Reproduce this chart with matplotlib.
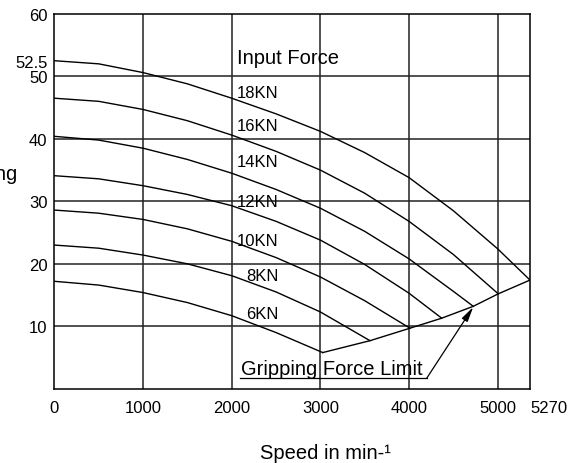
import matplotlib.pyplot as plt

plt.rcParams['font.family'] = ['Liberation Sans', 'DejaVu Sans']

# speed axis runs a bit past the last grid line (right edge is labelled 5270)
x_max = 5365
x_ticks = [0, 1000, 2000, 3000, 4000, 5000]
y_ticks = [10, 20, 30, 40, 50, 52.5, 60]

forces = ['18KN', '16KN', '14KN', '12KN', '10KN', '8KN', '6KN']

speed_18 = [0, 500, 1000, 1500, 2000, 2500, 3000, 3500, 4000, 4500, 5000, 5365]
grip_18 = [52.5, 52.0, 50.6, 48.8, 46.5, 44.0, 41.2, 37.8, 33.8, 28.5, 22.4, 17.4]
speed_16 = [0, 500, 1000, 1500, 2000, 2500, 3000, 3500, 4000, 4500, 5007]
grip_16 = [46.5, 46.0, 44.7, 42.9, 40.6, 38.0, 35.0, 31.3, 26.8, 21.5, 15.2]
speed_14 = [0, 500, 1000, 1500, 2000, 2500, 3000, 3500, 4000, 4500, 4725]
grip_14 = [40.4, 39.8, 38.5, 36.7, 34.5, 31.9, 28.9, 25.2, 20.8, 15.6, 13.2]
speed_12 = [0, 500, 1000, 1500, 2000, 2500, 3000, 3500, 4000, 4369]
grip_12 = [34.1, 33.6, 32.5, 31.1, 29.3, 26.8, 23.8, 19.9, 15.3, 11.3]
speed_10 = [0, 500, 1000, 1500, 2000, 2500, 3000, 3500, 4011]
grip_10 = [28.6, 28.1, 27.1, 25.6, 23.6, 21.0, 17.9, 14.1, 9.7]
speed_8 = [0, 500, 1000, 1500, 2000, 2500, 3000, 3560]
grip_8 = [23.0, 22.5, 21.4, 20.0, 18.1, 15.5, 12.3, 7.7]
speed_6 = [0, 500, 1000, 1500, 2000, 2500, 3027]
grip_6 = [17.2, 16.6, 15.4, 13.8, 11.7, 9.0, 5.8]

limit_speed = [3027, 3560, 4011, 4369, 4725, 5007, 5365]
limit_grip = [5.8, 7.7, 9.7, 11.3, 13.2, 15.2, 17.4]

# label positions (left edge, centre)
label_x = [2056, 2056, 2056, 2056, 2056, 2161, 2161]
label_y = [47.4, 42.2, 36.3, 29.9, 23.7, 18.1, 12.0]

curves = [(speed_18, grip_18), (speed_16, grip_16), (speed_14, grip_14),
          (speed_12, grip_12), (speed_10, grip_10), (speed_8, grip_8),
          (speed_6, grip_6)]

fig = plt.figure(figsize=(5.71, 4.64), dpi=100)
ax = fig.add_axes([0.0953, 0.1599, 0.9282 - 0.0953, 0.968 - 0.1599])

# grid
for gx in x_ticks[1:]:
    ax.axvline(gx, color='#222222', lw=1.1, zorder=1)
for gy in [10, 20, 30, 40, 50]:
    ax.axhline(gy, color='#222222', lw=1.1, zorder=1)

for sx, gy in curves:
    ax.plot(sx, gy, color='black', lw=1.0, zorder=2)
ax.plot(limit_speed, limit_grip, color='black', lw=1.0, zorder=2)

ax.text(2056, 53.0, 'Input Force', fontsize=14.5, va='center', ha='left')
for name, lx, ly in zip(forces, label_x, label_y):
    ax.text(lx, ly, name, fontsize=12, va='center', ha='left')

# gripping force limit callout
ax.text(2102, 2.3, 'Gripping Force Limit', fontsize=14.5, va='baseline', ha='left')
ax.plot([2092, 4200], [1.7, 1.7], color='black', lw=0.9)
ax.annotate('', xy=(4725, 13.1), xytext=(4200, 1.7),
            arrowprops=dict(arrowstyle='-|>,head_length=0.9,head_width=0.2',
                            color='black', lw=0.9, shrinkA=0, shrinkB=0))

ax.set_xlim(0, x_max)
ax.set_ylim(0, 60)
ax.set_xticks(x_ticks + [x_max])
ax.set_xticklabels([str(t) for t in x_ticks] + ['5270'])
ax.get_xticklabels()[-1].set_horizontalalignment('left')
ax.set_yticks(y_ticks)
ax.set_yticklabels(['10', '20', '30', '40', '50', '52.5', '60'])
ax.tick_params(length=0, labelsize=12, pad=5)
ax.tick_params(axis='x', pad=8)
for s in ax.spines.values():
    s.set_linewidth(1.1)

fig.text(325 / 571, 1 - 454 / 464, 'Speed in min-¹', fontsize=14.5,
         ha='center', va='center')
fig.text(17 / 571, 1 - 175 / 464, 'Gripping', fontsize=14.5,
         ha='right', va='center')

plt.savefig('out.png', dpi=100)
